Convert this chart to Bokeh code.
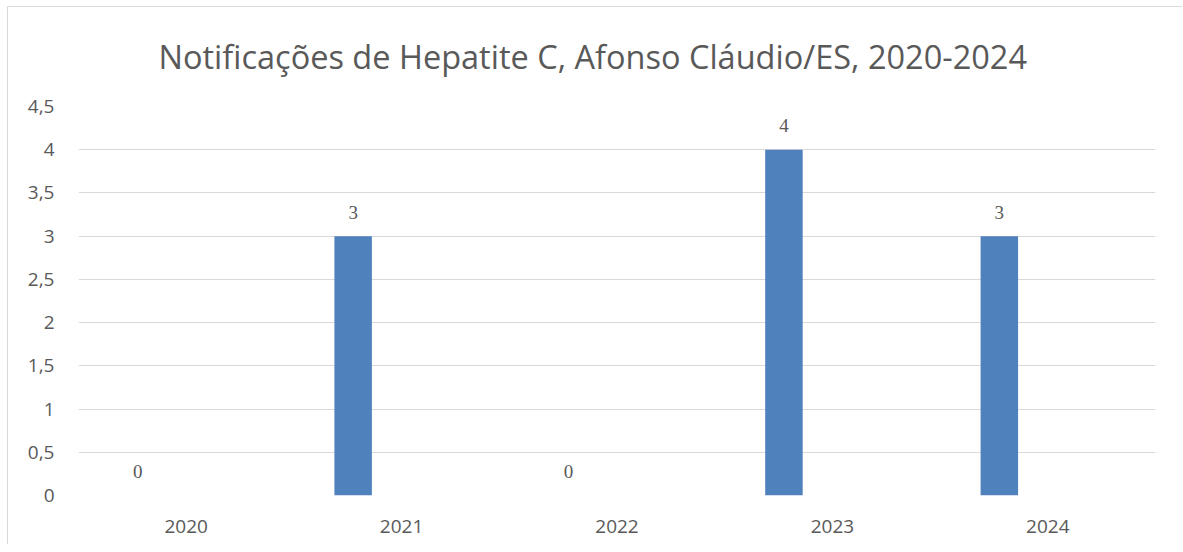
from bokeh.plotting import figure
from bokeh.models import ColumnDataSource, Range1d, FixedTicker, CustomJSTickFormatter, Title, LabelSet
from bokeh.transform import dodge
from bokeh.embed import file_html
from bokeh.resources import INLINE

years = ["2020", "2021", "2022", "2023", "2024"]
cases = [0, 3, 0, 4, 3]
y_ticks = [0, 0.5, 1, 1.5, 2, 2.5, 3, 3.5, 4, 4.5]
title_text = "Notificações de Hepatite C, Afonso Cláudio/ES, 2020-2024"

FONT = "Open Sans"
GRAY = "#595959"

src = ColumnDataSource(dict(year=years, cases=cases, lab=[str(c) for c in cases]))

p = figure(x_range=years, width=1175, height=538, output_backend="svg",
           toolbar_location=None, min_border_left=70, min_border_right=28,
           min_border_top=98, min_border_bottom=50)
p.y_range = Range1d(0, 4.5)
p.styles = {"margin-left": "7px", "margin-top": "6px",
            "border-left": "1px solid #d9d9d9", "border-top": "1px solid #d9d9d9"}

p.vbar(x=dodge("year", -0.225, range=p.x_range), top="cases", width=0.174,
       source=src, fill_color="#4f81bd", line_color=None)

labels = LabelSet(x=dodge("year", -0.225, range=p.x_range), y="cases", text="lab",
                  source=src, text_align="center", text_baseline="middle",
                  y_offset=24, text_font=FONT, text_font_size="19px", text_color=GRAY)
p.add_layout(labels)

t = Title(text=title_text, align="left", vertical_align="top", text_font=FONT,
          text_font_size="32.5px", text_color=GRAY, text_font_style="normal",
          standoff=52, offset=80)
p.add_layout(t, "above")

p.yaxis.ticker = FixedTicker(ticks=y_ticks)
p.yaxis.formatter = CustomJSTickFormatter(code="return String(tick).replace('.', ',');")
p.ygrid.ticker = FixedTicker(ticks=y_ticks)
p.ygrid.grid_line_color = "#d9d9d9"
p.ygrid.grid_line_width = 1
p.xgrid.grid_line_color = None

for ax in (p.xaxis, p.yaxis):
    ax.axis_line_color = None
    ax.major_tick_line_color = None
    ax.minor_tick_line_color = None
    ax.major_label_text_font = FONT
    ax.major_label_text_font_size = "19px"
    ax.major_label_text_color = GRAY
p.yaxis.major_label_standoff = 18
p.xaxis.major_label_standoff = 18
p.outline_line_color = None
p.x_range.range_padding = 0

open("out.html", "w").write(file_html(p, INLINE))
